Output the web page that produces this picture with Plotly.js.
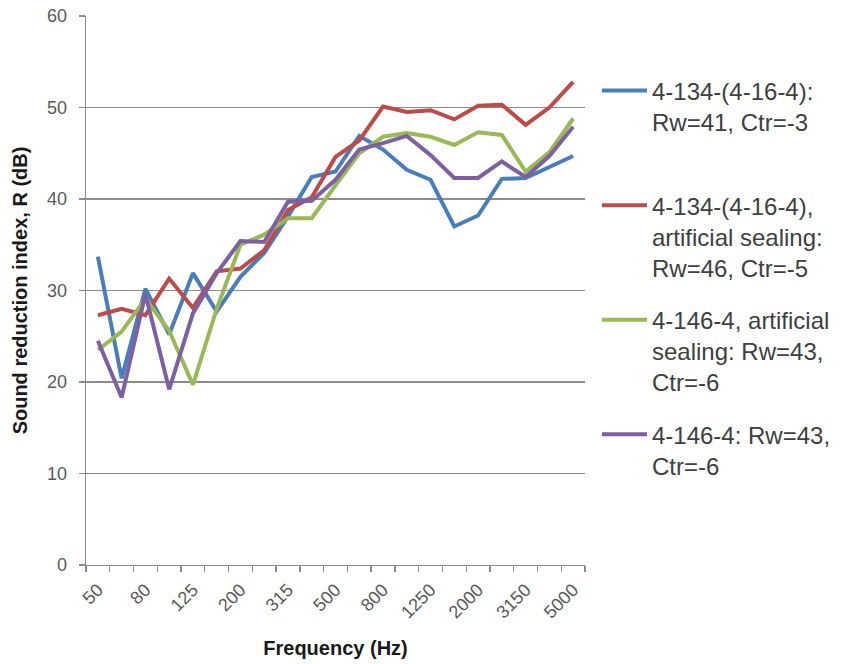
<!DOCTYPE html>
<html>
<head>
<meta charset="utf-8">
<script src="https://cdn.plot.ly/plotly-3.0.1.min.js"></script>
<style>html,body{margin:0;padding:0;background:#fff;}#chart{width:853px;height:664px;}</style>
</head>
<body>
<div id="chart"></div>
<script>
const frequencies = ['50','63','80','100','125','160','200','250','315','400','500','630','800','1000','1250','1600','2000','2500','3150','4000','5000'];
const tickLabels = ['50','80','125','200','315','500','800','1250','2000','3150','5000'];

const seriesNames = [
  '4-134-(4-16-4):<br>Rw=41, Ctr=-3<br> ',
  '4-134-(4-16-4),<br>artificial sealing:<br>Rw=46, Ctr=-5',
  '4-146-4, artificial<br>sealing: Rw=43,<br>Ctr=-6',
  '4-146-4: Rw=43,<br>Ctr=-6'
];
const blueValues   = [33.7, 20.4, 30.2, 25.2, 31.9, 27.7, 31.5, 34.1, 38.1, 42.4, 43.0, 46.9, 45.4, 43.2, 42.1, 37.0, 38.2, 42.2, 42.3, 43.5, 44.7];
const redValues    = [27.3, 28.0, 27.3, 31.3, 28.1, 32.1, 32.4, 34.4, 38.8, 40.2, 44.6, 46.4, 50.1, 49.5, 49.7, 48.7, 50.2, 50.3, 48.1, 50.0, 52.8];
const greenValues  = [23.5, 25.5, 29.1, 25.6, 19.7, 28.0, 35.0, 36.1, 37.9, 37.9, 41.5, 45.0, 46.8, 47.2, 46.8, 45.9, 47.3, 47.0, 43.0, 45.1, 48.8];
const purpleValues = [24.5, 18.3, 29.6, 19.2, 27.5, 31.9, 35.4, 35.3, 39.7, 39.8, 42.1, 45.4, 46.1, 46.9, 44.8, 42.3, 42.3, 44.1, 42.4, 44.7, 47.9];
const colors = ['#4A7EBB', '#BE4B48', '#98B954', '#7D60A0'];

const allValues = [blueValues, redValues, greenValues, purpleValues];
const traces = allValues.map((vals, i) => ({
  type: 'scatter',
  mode: 'lines',
  x: frequencies,
  y: vals,
  name: seriesNames[i],
  legendgroup: 'g' + i,
  line: {color: colors[i], width: 4},
  xaxis: 'x',
  yaxis: 'y'
}));

// invisible helper trace on overlay axis to draw boundary tick marks
traces.push({
  type: 'scatter', mode: 'lines', x: [-0.5, 20.5], y: [0, 0],
  xaxis: 'x2', yaxis: 'y', showlegend: false, hoverinfo: 'skip',
  line: {color: 'rgba(0,0,0,0)', width: 0}
});

const gray = '#8c8c8c';
const fam = 'Liberation Sans, Arial, sans-serif';
const layout = {
  width: 853, height: 664,
  margin: {l: 86, r: 268, t: 16, b: 99},
  paper_bgcolor: '#ffffff', plot_bgcolor: '#ffffff',
  font: {family: fam, color: '#595959'},
  showlegend: true,
  legend: {
    x: 1.024, xanchor: 'left', y: 0.9045, yanchor: 'top',
    font: {size: 24, color: '#404040', family: fam},
    itemwidth: 45,
    tracegroupgap: 18, valign: 'top', bgcolor: 'rgba(0,0,0,0)'
  },
  xaxis: {
    type: 'category', categoryorder: 'array', categoryarray: frequencies,
    range: [-0.5, 20.5],
    tickmode: 'array', tickvals: tickLabels, ticktext: tickLabels,
    tickangle: -45, ticks: '', showgrid: false, zeroline: false,
    showline: true, linecolor: gray, linewidth: 1.3,
    ticklabelstandoff: 6,
    tickfont: {size: 18, color: '#595959'},
    title: {text: 'Frequency (Hz)', font: {size: 20, color: '#1a1a1a', family: fam, weight: 'bold'}, standoff: 19}
  },
  xaxis2: {
    overlaying: 'x', type: 'linear', range: [-0.5, 20.5],
    tickmode: 'linear', tick0: -0.5, dtick: 1,
    ticks: 'outside', ticklen: 6, tickcolor: gray, tickwidth: 1.3,
    showticklabels: false, showgrid: false, zeroline: false, showline: false,
    side: 'bottom', anchor: 'y'
  },
  yaxis: {
    range: [0, 60], dtick: 10, tick0: 0,
    showgrid: true, gridcolor: gray, gridwidth: 1.3,
    zeroline: false, showline: true, linecolor: gray, linewidth: 1.3,
    ticks: 'outside', ticklen: 6, tickcolor: gray, tickwidth: 1.3,
    ticklabelstandoff: 8,
    tickfont: {size: 18, color: '#595959'},
    title: {text: 'Sound reduction index, R (dB)', font: {size: 20, color: '#1a1a1a', family: fam, weight: 'bold'}, standoff: 14}
  }
};

Plotly.newPlot('chart', traces, layout, {displayModeBar: false, staticPlot: true});
</script>
</body>
</html>
